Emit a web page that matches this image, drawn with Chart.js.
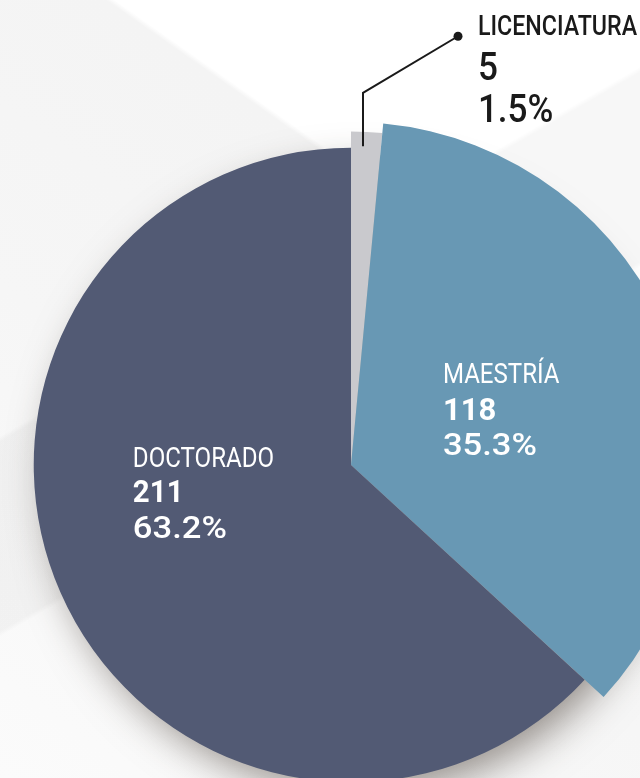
<!DOCTYPE html>
<html>
<head>
<meta charset="utf-8">
<script src="https://cdn.jsdelivr.net/npm/chart.js@4.4.1/dist/chart.umd.min.js"></script>
<style>
    html, body {
        margin: 0;
        padding: 0;
        width: 640px;
        height: 778px;
        overflow: hidden;
    }
    body {
        position: relative;
        background:
            linear-gradient(150deg, rgba(0,0,0,0) 0%, rgba(0,0,0,0) 38%, rgba(0,0,0,0.03) 38.5%, rgba(0,0,0,0.03) 55%, rgba(0,0,0,0) 55.5%),
            linear-gradient(215deg, #ffffff 0%, #ffffff 30%, #f4f4f4 30.5%, #f6f6f6 60%, #fbfbfb 100%);
    }
    #wrap {
        position: absolute;
        left: 0;
        top: 0;
        width: 702px;
        height: 808px;
    }
</style>
</head>
<body>
<div id="wrap"><canvas id="pie" width="702" height="808"></canvas></div>
<script>
// 数据
const categories = ['LICENCIATURA', 'MAESTRÍA', 'DOCTORADO'];
const counts = [5, 118, 211];
const percentLabels = ['1.5%', '35.3%', '63.2%'];

// 样式
const sliceColors = ['#c9c9cd', '#6898b4', '#525a74'];
const radiusScale = [0.972, 1, 0.925];
const FONT = 'Roboto, "DejaVu Sans", sans-serif';

// 每个扇区的半径不同
const radiusPlugin = {
    id: 'radiusPlugin',
    beforeDatasetsDraw(chart) {
        const arcs = chart.getDatasetMeta(0).data;
        const base = chart.getDatasetMeta(0).controller.outerRadius;
        arcs.forEach((arc, i) => {
            arc.outerRadius = base * radiusScale[i];
        });

        // 阴影
        const ctx = chart.ctx;
        const arc = arcs[2];
        ctx.save();
        ctx.shadowColor = 'rgba(60, 50, 40, 0.55)';
        ctx.shadowBlur = 40;
        ctx.shadowOffsetX = 10;
        ctx.shadowOffsetY = 16;
        ctx.fillStyle = '#bfbab5';
        ctx.beginPath();
        ctx.arc(arc.x, arc.y, arc.outerRadius * 0.98, 0, Math.PI * 2);
        ctx.fill();
        ctx.restore();
    }
};

function drawLines(ctx, x, y, lines) {
    lines.forEach(line => {
        ctx.save();
        ctx.font = line.font;
        ctx.fillStyle = line.color;
        ctx.translate(x, y + line.dy);
        ctx.scale(line.sx || 1, 1);
        ctx.textBaseline = 'alphabetic';
        ctx.textAlign = 'left';
        ctx.fillText(line.text, 0, 0);
        ctx.restore();
    });
}

// 标签
const labelPlugin = {
    id: 'labelPlugin',
    afterDatasetsDraw(chart) {
        const ctx = chart.ctx;
        const arcs = chart.getDatasetMeta(0).data;
        const R = chart.getDatasetMeta(0).controller.outerRadius;
        const cx = arcs[0].x;
        const cy = arcs[0].y;

        // DOCTORADO
        drawLines(ctx, cx - 0.636 * R, cy, [
            { text: categories[2], font: '400 28px ' + FONT, color: '#ffffff', dy: 2, sx: 0.86 },
            { text: String(counts[2]), font: '700 32px ' + FONT, color: '#ffffff', dy: 37, sx: 0.92 },
            { text: percentLabels[2], font: '500 32px ' + FONT, color: '#ffffff', dy: 73, sx: 1.08 }
        ]);

        // MAESTRÍA
        drawLines(ctx, cx + 0.268 * R, cy, [
            { text: categories[1], font: '400 28px ' + FONT, color: '#ffffff', dy: -82, sx: 0.86 },
            { text: String(counts[1]), font: '700 32px ' + FONT, color: '#ffffff', dy: -45, sx: 0.97 },
            { text: percentLabels[1], font: '500 32px ' + FONT, color: '#ffffff', dy: -10, sx: 1.08 }
        ]);

        // LICENCIATURA 引线
        const a = arcs[0];
        const mid = (a.startAngle + a.endAngle) / 2;
        const sx = cx + Math.cos(mid) * R * 0.93 - 3;
        const sy = cy + Math.sin(mid) * R * 0.93;
        const ky = cy - 1.085 * R;
        const dotX = cx + 0.312 * R;
        const dotY = cy - 1.25 * R;
        ctx.save();
        ctx.strokeStyle = '#1a1a1a';
        ctx.lineWidth = 2;
        ctx.beginPath();
        ctx.moveTo(sx, sy);
        ctx.lineTo(sx, ky);
        ctx.lineTo(dotX, dotY);
        ctx.stroke();
        ctx.fillStyle = '#1a1a1a';
        ctx.beginPath();
        ctx.arc(dotX, dotY, 4.5, 0, Math.PI * 2);
        ctx.fill();
        ctx.restore();

        drawLines(ctx, cx + 0.37 * R, dotY, [
            { text: categories[0], font: '500 27px ' + FONT, color: '#1a1a1a', dy: -1, sx: 0.86 },
            { text: String(counts[0]), font: '500 39px ' + FONT, color: '#1a1a1a', dy: 44, sx: 0.9 },
            { text: percentLabels[0], font: '500 39px ' + FONT, color: '#1a1a1a', dy: 86, sx: 0.9 }
        ]);
    }
};

new Chart(document.getElementById('pie'), {
    type: 'pie',
    data: {
        labels: categories,
        datasets: [{
            data: counts,
            backgroundColor: sliceColors,
            borderWidth: 0,
            hoverOffset: 0
        }]
    },
    options: {
        responsive: false,
        animation: false,
        events: [],
        layout: { padding: { left: 8, right: 8, top: 122, bottom: 0 } },
        plugins: {
            legend: { display: false },
            tooltip: { enabled: false }
        }
    },
    plugins: [radiusPlugin, labelPlugin]
});
</script>
</body>
</html>
